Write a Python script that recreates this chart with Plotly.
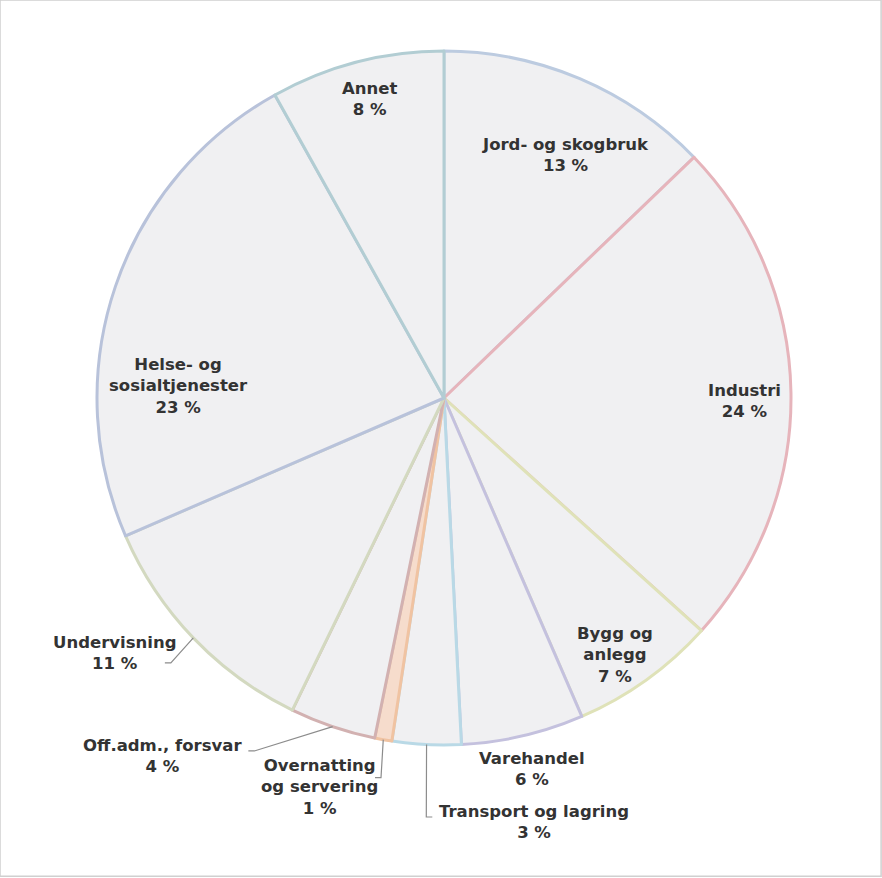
import math
import plotly.graph_objects as go

# ---- data ----
categories = ["Jord- og skogbruk", "Industri", "Bygg og<br>anlegg", "Varehandel",
              "Transport og lagring", "Overnatting<br>og servering", "Off.adm., forsvar",
              "Undervisning", "Helse- og<br>sosialtjenester", "Annet"]
values = [12.8, 23.9, 6.8, 5.7, 3.2, 0.8, 4.0, 11.3, 23.4, 8.1]

# ---- styling / label layout (polar: angle in degrees from top, radius fraction) ----
W, H = 882, 878
CX, CY, R = 444.0, 398.0, 347.0
label_angle = [26.5, 90.6, 146.3, 166.7, 168.0, 197.7, 218.2, 232.3, 272.6, 346.0]
label_radius = [0.782, 0.867, 0.890, 1.099, 1.249, 1.176, 1.312, 1.201, 0.765, 0.888]
# leader lines: (end angle, end radius, stub direction) or None
leaders = [None, None, None, None,
           (181.6, 1.208, -1), (190.3, 1.112, 1), (209.0, 1.163, 1), (226.5, 1.109, 1),
           None, None]

edge_colors = ["#bccbe0", "#e6b4bb", "#dfe2b8", "#c4c1de", "#b9d9e6", "#f0c3a2",
               "#d2b1b1", "#d3d9c0", "#b8c2da", "#b2cdd3"]
fill_colors = ["#f0f0f2"] * len(values)
fill_colors[5] = "#f6dccc"
font = dict(family="DejaVu Sans", size=16.5, color="#333333", weight="bold")

total = sum(values)
pct_text = [f"{round(v / total * 100)} %" for v in values]


def px_point(angle_deg, rfrac):
    a = math.radians(angle_deg)
    return CX + R * rfrac * math.sin(a), CY - R * rfrac * math.cos(a)


def to_paper(x, y):
    return x / W, 1 - y / H


fig = go.Figure(go.Pie(
    labels=categories,
    values=values,
    textinfo="none",
    sort=False,
    direction="clockwise",
    rotation=0,
    marker=dict(colors=fill_colors, line=dict(color=edge_colors, width=3)),
    hoverinfo="label+percent",
    automargin=False,
    domain=dict(x=[(CX - R) / W, (CX + R) / W], y=[1 - (CY + R) / H, 1 - (CY - R) / H]),
))

annotations = []
shapes = []
cum = 0.0
for i, (cat, v) in enumerate(zip(categories, values)):
    mid = (cum + v / 2) / total * 360
    cum += v
    lx, ly = px_point(label_angle[i], label_radius[i])
    px, py = to_paper(lx, ly)
    annotations.append(dict(x=px, y=py, xref="paper", yref="paper", showarrow=False,
                            text=f"{cat}<br>{pct_text[i]}", font=font,
                            xanchor="center", yanchor="middle", align="center"))
    if leaders[i] is not None:
        ea, er, d = leaders[i]
        ex, ey = px_point(ea, er)
        sx, sy = px_point(mid, 1.0)
        kx = ex + 6 * d
        pts = [to_paper(ex, ey), to_paper(kx, ey), to_paper(sx, sy)]
        path = "M " + " L ".join(f"{p[0]},{p[1]}" for p in pts)
        shapes.append(dict(type="path", xref="paper", yref="paper", path=path,
                           line=dict(color="#8c8c8c", width=1.2)))

shapes.append(dict(type="rect", xref="paper", yref="paper", x0=0, y0=0.002, x1=0.999, y1=1,
                   line=dict(color="#d0d0d0", width=1.5)))

fig.update_layout(
    width=W, height=H,
    margin=dict(l=0, r=0, t=0, b=0),
    paper_bgcolor="white",
    showlegend=False,
    annotations=annotations,
    shapes=shapes,
)

fig.write_html("out.html")
